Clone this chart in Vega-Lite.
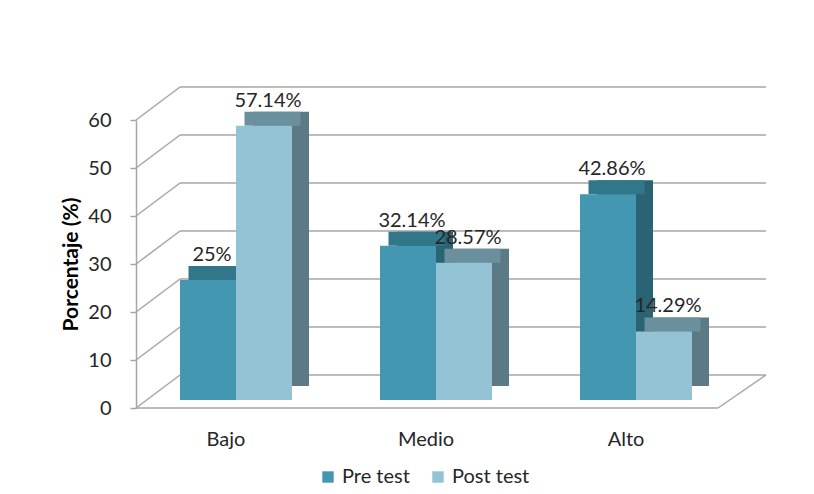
{
  "$schema": "https://vega.github.io/schema/vega-lite/v6.json",
  "width": 600,
  "height": 288,
  "autosize": {"type": "none"},
  "padding": {"left": 136, "top": 120, "right": 78, "bottom": 86},
  "background": "white",
  "config": {
    "font": "Lato",
    "view": {"stroke": null}
  },
  "datasets": {
    "bars": [
      {"nivel": "Bajo", "grupo": "Pre test", "pct": 25, "label": "25%"},
      {"nivel": "Bajo", "grupo": "Post test", "pct": 57.14, "label": "57.14%"},
      {"nivel": "Medio", "grupo": "Pre test", "pct": 32.14, "label": "32.14%"},
      {"nivel": "Medio", "grupo": "Post test", "pct": 28.57, "label": "28.57%"},
      {"nivel": "Alto", "grupo": "Pre test", "pct": 42.86, "label": "42.86%"},
      {"nivel": "Alto", "grupo": "Post test", "pct": 14.29, "label": "14.29%"}
    ],
    "grid": [{"v": 0}, {"v": 10}, {"v": 20}, {"v": 30}, {"v": 40}, {"v": 50}, {"v": 60}],
    "floor": [{"v": 0}]
  },
  "resolve": {"axis": {"x": "independent", "y": "independent"}, "scale": {"xOffset": "independent"}},
  "layer": [
    {
      "data": {"name": "grid"},
      "mark": {"type": "rule", "color": "#a6a6a6", "strokeWidth": 1.5, "yOffset": -33, "x2Offset": 74},
      "encoding": {
        "x": {"datum": "Bajo", "type": "nominal", "bandPosition": 0, "sort": ["Bajo", "Medio", "Alto"], "scale": {"paddingInner": 0.44, "paddingOuter": 0.22}, "axis": null},
        "x2": {"datum": "Alto", "bandPosition": 1},
        "y": {"field": "v", "type": "quantitative", "scale": {"domain": [0, 60]}, "axis": null}
      }
    },
    {
      "data": {"name": "grid"},
      "mark": {"type": "rule", "color": "#a6a6a6", "strokeWidth": 1.5, "xOffset": -44, "y2Offset": -33},
      "encoding": {
        "x": {"datum": "Bajo", "type": "nominal", "bandPosition": 0, "axis": null},
        "x2": {"datum": "Bajo", "bandPosition": 0},
        "y": {"field": "v", "type": "quantitative", "axis": null},
        "y2": {"field": "v"}
      }
    },
    {
      "data": {"name": "floor"},
      "mark": {"type": "rule", "color": "#a6a6a6", "strokeWidth": 1.5, "xOffset": -44, "x2Offset": 26},
      "encoding": {
        "x": {"datum": "Bajo", "type": "nominal", "bandPosition": 0, "axis": null},
        "x2": {"datum": "Alto", "bandPosition": 1},
        "y": {"field": "v", "type": "quantitative", "axis": null}
      }
    },
    {
      "data": {"name": "floor"},
      "mark": {"type": "rule", "color": "#a6a6a6", "strokeWidth": 1.5, "xOffset": 26, "x2Offset": 74, "y2Offset": -33},
      "encoding": {
        "x": {"datum": "Alto", "type": "nominal", "bandPosition": 1, "axis": null},
        "x2": {"datum": "Alto", "bandPosition": 1},
        "y": {"field": "v", "type": "quantitative", "axis": null},
        "y2": {"field": "v"}
      }
    },
    {
      "data": {"name": "bars"},
      "mark": {"type": "bar", "yOffset": -22, "y2Offset": -22},
      "encoding": {
        "x": {"field": "nivel", "type": "nominal", "sort": ["Bajo", "Medio", "Alto"], "axis": null},
        "xOffset": {"field": "grupo", "type": "nominal", "sort": ["Pre test", "Post test"], "scale": {"paddingInner": 0, "range": [17, 129]}},
        "y": {"field": "pct", "type": "quantitative", "axis": null},
        "fill": {"condition": {"test": "datum.grupo === 'Pre test'", "value": "#2A6373"}, "value": "#5B7A85"}
      }
    },
    {
      "data": {"name": "bars"},
      "mark": {"type": "bar", "yOffset": -22, "y2Offset": -8},
      "encoding": {
        "x": {"field": "nivel", "type": "nominal", "sort": ["Bajo", "Medio", "Alto"], "axis": null},
        "xOffset": {"field": "grupo", "type": "nominal", "sort": ["Pre test", "Post test"], "scale": {"paddingInner": 0, "range": [8.5, 120.5]}},
        "y": {"field": "pct", "type": "quantitative", "axis": null},
        "y2": {"field": "pct"},
        "fill": {"condition": {"test": "datum.grupo === 'Pre test'", "value": "#317689"}, "value": "#6B909D"}
      }
    },
    {
      "data": {"name": "bars"},
      "mark": {"type": "bar", "yOffset": -8, "y2Offset": -8},
      "encoding": {
        "x": {
          "field": "nivel", "type": "nominal", "sort": ["Bajo", "Medio", "Alto"],
          "axis": {"title": null, "labelAngle": 0, "labelFontSize": 20, "labelColor": "#262626", "labelPadding": 21, "labelOffset": -10, "ticks": false, "domain": false}
        },
        "xOffset": {"field": "grupo", "type": "nominal", "sort": ["Pre test", "Post test"], "scale": {"paddingInner": 0}},
        "y": {
          "field": "pct", "type": "quantitative",
          "axis": {"title": "Porcentaje (%)", "titleFontSize": 21, "titleFontWeight": "bold", "titleColor": "#000000", "titlePadding": 6, "values": [0, 10, 20, 30, 40, 50, 60], "labelFontSize": 20, "labelColor": "#262626", "labelPadding": 19, "grid": false, "domainColor": "#a6a6a6", "domainWidth": 1.5, "tickColor": "#a6a6a6", "tickWidth": 1.5, "tickSize": 6}
        },
        "color": {
          "field": "grupo", "type": "nominal",
          "scale": {"domain": ["Pre test", "Post test"], "range": ["#4397B0", "#93C3D5"]},
          "legend": {"title": null, "orient": "none", "legendX": 182, "legendY": 347, "direction": "horizontal", "symbolType": "square", "symbolSize": 130, "labelFontSize": 20, "labelColor": "#262626", "columnPadding": 18}
        }
      }
    },
    {
      "data": {"name": "bars"},
      "mark": {"type": "text", "fontSize": 20, "color": "#262626", "baseline": "bottom", "dy": -23, "dx": 4},
      "encoding": {
        "x": {"field": "nivel", "type": "nominal", "sort": ["Bajo", "Medio", "Alto"], "axis": null},
        "xOffset": {"field": "grupo", "type": "nominal", "sort": ["Pre test", "Post test"], "scale": {"paddingInner": 0}},
        "y": {"field": "pct", "type": "quantitative", "axis": null},
        "text": {"field": "label", "type": "nominal"}
      }
    }
  ]
}
